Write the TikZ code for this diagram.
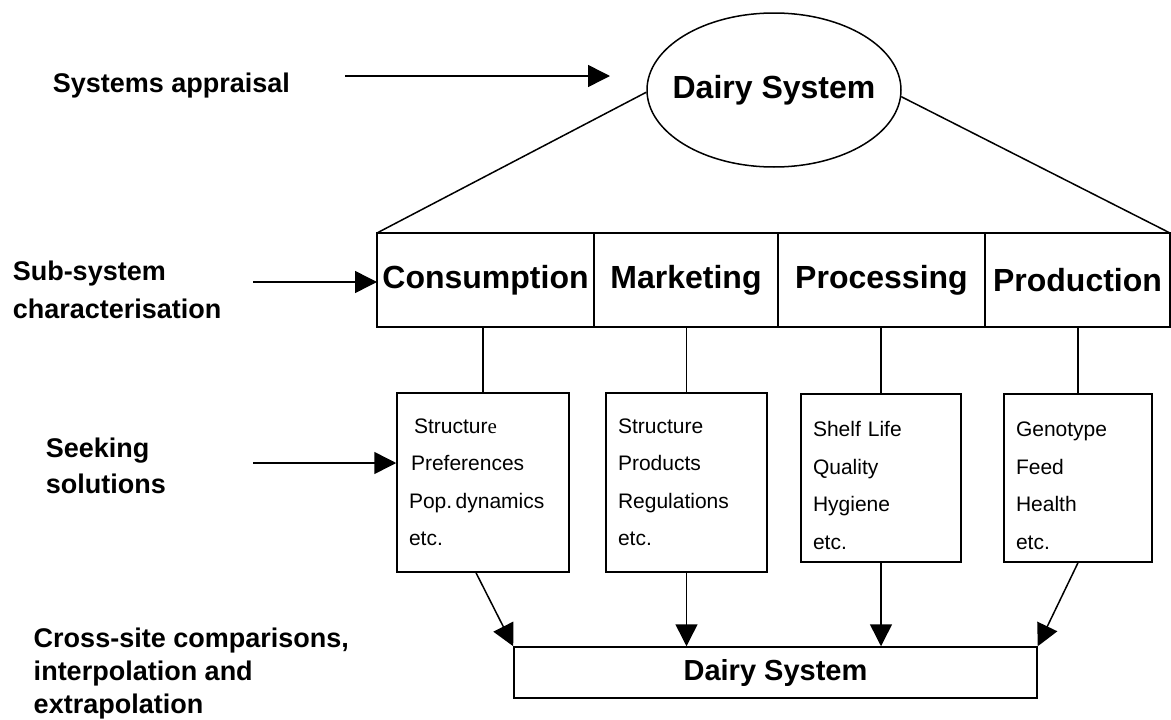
\documentclass[tikz,border=0pt]{standalone}
\usepackage{fontspec}
\setmainfont{Liberation Sans}
\newfontfamily\serifface{Liberation Serif}
\usetikzlibrary{positioning,shapes.geometric,arrows.meta}

\begin{document}
\begin{tikzpicture}[x=1pt,y=-1pt,line width=1.5pt,
  >={Triangle[length=22pt,width=22pt]},
  stage/.style={font=\fontsize{27}{36}\selectfont\bfseries,align=left,inner sep=0pt},
  cell/.style={draw,minimum height=94pt,inner sep=0pt,outer sep=0pt,font=\fontsize{32}{38}\selectfont\bfseries},
  slot/.style={draw,align=left,inner xsep=12pt,inner ysep=0pt,font=\fontsize{21}{37.5}\selectfont}]
\useasboundingbox (0,0) rectangle (1171,720);
% stages on the left
\node[stage,anchor=base west] (appraisal) at (52,92) {Systems appraisal};
\node[stage,anchor=north west] (subsys) at (12,260) {Sub-system\\[2pt]characterisation};
\node[stage,anchor=north west] (seeking) at (45,437) {Seeking\\solutions};
\node[stage,anchor=north west] (cross) at (33,627) {Cross-site comparisons,\\[-3pt]interpolation and\\[-3pt]extrapolation};

% whole system
\node[ellipse,draw,minimum width=254pt,minimum height=154pt,inner sep=0pt,
  label={[font=\fontsize{32}{38}\selectfont\bfseries]center:Dairy System}] (dairy) at (774,90) {};

% sub-systems
\node[cell,minimum width=217pt,anchor=west] (cons) at (377,280) {Consumption};
\node[cell,minimum width=184pt,right=0pt of cons] (mark) {Marketing};
\node[cell,minimum width=207pt,right=0pt of mark] (proc) {Processing};
\node[cell,minimum width=185pt,right=0pt of proc] (prod) {Production};
\draw (dairy.181) -- (cons.north west);
\draw (dairy.-3) -- (prod.north east);

% components
\node[slot,text width=148pt,minimum height=179pt] (box1) at (483,482.5) {\hspace*{5pt}Structur{\serifface e}\\\hspace*{2pt}Preferences\\Pop.\,dynamics\\etc.};
\node[slot,text width=137pt,minimum height=179pt] (box2) at (686.5,482.5) {Structure\\Products\\Regulations\\etc.};
\node[slot,text width=136pt,minimum height=168pt] (box3) at (881,478) {\rule{0pt}{30pt}Shelf Life\\Quality\\Hygiene\\etc.};
\node[slot,text width=124pt,minimum height=168pt] (box4) at (1078,478) {\rule{0pt}{30pt}Genotype\\Feed\\Health\\etc.};
\foreach \b/\c in {box1/cons,box2/mark,box3/proc,box4/prod}
  \draw (\b.north) -- (\b.north |- \c.south);

% synthesis
\node[draw,minimum width=523pt,minimum height=51pt,inner sep=0pt,font=\fontsize{29}{34}\selectfont\bfseries] (whole) at (775.5,672.5) {Dairy System};
\draw[->] ([xshift=-7pt]box1.south) -- (whole.north west);
\draw[->] (box2.south) -- (box2.south |- whole.north);
\draw[->] (box3.south) -- (box3.south |- whole.north);
\draw[->] (box4.south) -- (whole.north east);

% stage arrows
\coordinate (a1) at (345,76);
\coordinate (a2) at (610,76);
\draw[->] (a1) -- (a2);
\coordinate (s1) at (253,282);
\draw[->] (s1) -- (s1 -| cons.west);
\coordinate (k1) at (253,463);
\draw[->] (k1) -- (k1 -| box1.west);
\end{tikzpicture}
\end{document}
